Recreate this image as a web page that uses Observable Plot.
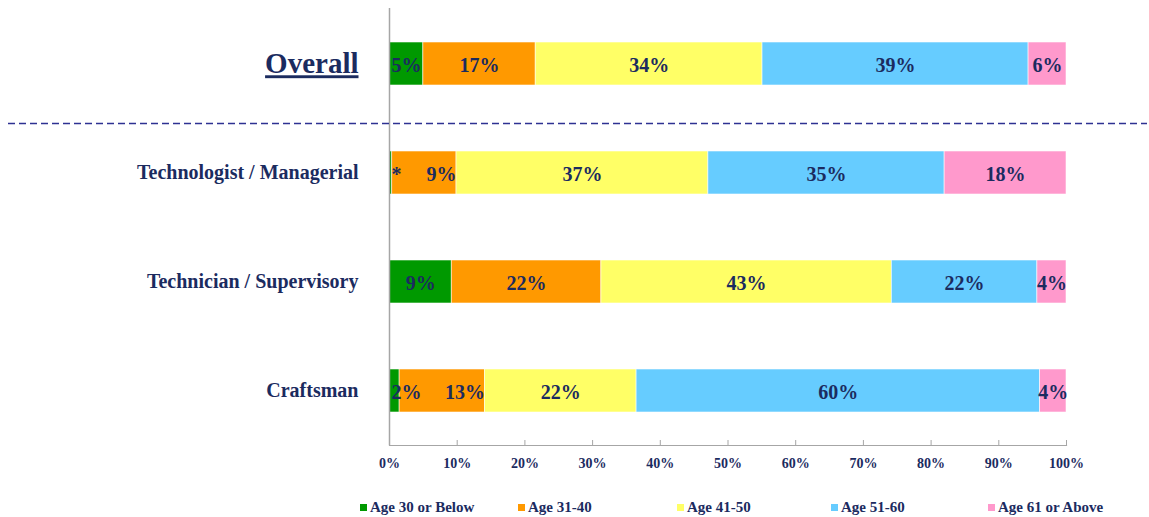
<!DOCTYPE html>
<html><head><meta charset="utf-8">
<script src="https://cdn.jsdelivr.net/npm/d3@7"></script>
<script src="https://cdn.jsdelivr.net/npm/@observablehq/plot@0.6"></script>
<style>
body{margin:0;background:#fff;}
#wrap{position:relative;width:1149px;height:517px;overflow:hidden;}
.legend{position:absolute;top:498px;left:0;width:1149px;height:19px;font:bold 15px "Liberation Serif","Times New Roman",serif;color:#1b2b5f;}
.item{position:absolute;top:0;display:flex;align-items:center;height:19px;white-space:nowrap;}
.sw{width:7px;height:7px;margin-right:3px;}
</style></head><body><div id="wrap"></div>
<script>
const categories = ["Overall", "Technologist / Managerial", "Technician / Supervisory", "Craftsman"];
const ageGroups = ["Age 30 or Below", "Age 31-40", "Age 41-50", "Age 51-60", "Age 61 or Above"];
const groupColors = ["#009900", "#FF9900", "#FFFF66", "#66CCFF", "#FF99CC"];

const overallValues = [5.0, 16.6, 33.5, 39.3, 5.6];
const managerialValues = [0.4, 9.5, 37.2, 34.9, 18.0];
const supervisoryValues = [9.2, 22.1, 42.9, 21.5, 4.3];
const craftsmanValues = [1.5, 12.6, 22.4, 59.6, 3.9];

const overallLabels = ["5%", "17%", "34%", "39%", "6%"];
const managerialLabels = ["*", "9%", "37%", "35%", "18%"];
const supervisoryLabels = ["9%", "22%", "43%", "22%", "4%"];
const craftsmanLabels = ["2%", "13%", "22%", "60%", "4%"];

const xTicks = [0, 10, 20, 30, 40, 50, 60, 70, 80, 90, 100];

const seriesValues = [overallValues, managerialValues, supervisoryValues, craftsmanValues];
const seriesLabels = [overallLabels, managerialLabels, supervisoryLabels, craftsmanLabels];

const pxPerUnit = (1149 - 389 - 83) / 100;
const estWidth = s => s.replace(/%/g, "").length * 10 + (s.includes("%") ? 20 : 0);

const rows = [];
categories.forEach((cat, i) => {
  let acc = 0;
  let prevStart = false;
  seriesValues[i].forEach((v, j) => {
    const r = {category: cat, group: ageGroups[j], value: v, x1: acc, x2: acc + v, mid: acc + v / 2, label: seriesLabels[i][j]};
    if (acc === 0 && v * pxPerUnit < estWidth(r.label)) r.anchor = "start";
    else if (prevStart) r.anchor = "end";
    else r.anchor = "middle";
    prevStart = r.anchor === "start";
    rows.push(r);
    acc += v;
  });
});

const startRows = rows.filter(r => r.anchor === "start");
const endRows = rows.filter(r => r.anchor === "end");
const centerRows = rows.filter(r => r.anchor === "middle");

const navy = "#1b2b5f";
const serif = '"Liberation Serif","Times New Roman",serif';
const labelStyle = {y: "category", text: "label", fontSize: 20, fontWeight: "bold", fill: navy, dy: 1.5};

const chart = Plot.plot({
  width: 1149, height: 480,
  marginLeft: 389, marginRight: 83, marginTop: 8, marginBottom: 35,
  style: {fontFamily: serif, color: navy, background: "white", overflow: "visible"},
  x: {domain: [0, 100]},
  y: {domain: categories, paddingInner: 0.607, paddingOuter: 0.3, align: 0.5},
  color: {domain: ageGroups, range: groupColors},
  marks: [
    Plot.barX(rows, {y: "category", x1: "x1", x2: "x2", fill: "group", stroke: "white", strokeWidth: 0.8, strokeOpacity: 0.7}),
    Plot.ruleX([0], {stroke: "#a6a6a6", strokeWidth: 1.5}),
    Plot.frame({anchor: "bottom", stroke: "#a6a6a6", strokeWidth: 1.2}),
    Plot.ruleX(xTicks, {x: d => d, insetTop: 432, stroke: "#a6a6a6"}),
    Plot.axisX(xTicks, {tickSize: 0, tickPadding: 13, tickFormat: d => d + "%", fontSize: 14, fontWeight: "bold", fill: navy, label: null}),
    Plot.axisY(categories.slice(1), {tickSize: 0, tickPadding: 31, fontSize: 20, fontWeight: "bold", fill: navy, label: null}),
    Plot.axisY(categories.slice(0, 1), {tickSize: 0, tickPadding: 31, fontSize: 29, fontWeight: "bold", fill: navy, label: null}),
    Plot.ruleY(categories.slice(0, 1), {y: d => d, dy: 59.5, insetLeft: -381, insetRight: -81, stroke: "#2e3192", strokeWidth: 1.5, strokeDasharray: "7,4"}),
    Plot.text(centerRows, {x: "mid", ...labelStyle}),
    Plot.text(startRows, {x: "x1", textAnchor: "start", ...labelStyle, dx: 2}),
    Plot.text(endRows, {x: "x2", textAnchor: "end", ...labelStyle, dx: 0})
  ]
});

d3.select(chart).selectAll("text").filter(function() { return this.textContent === "Overall"; })
  .style("text-decoration", "underline");

const wrap = document.getElementById("wrap");
wrap.appendChild(chart);

const legendX = [360, 518, 677, 831, 988];
const legend = document.createElement("div");
legend.className = "legend";
ageGroups.forEach((g, i) => {
  const item = document.createElement("div");
  item.className = "item";
  item.style.left = legendX[i] + "px";
  const sw = document.createElement("span");
  sw.className = "sw";
  sw.style.background = groupColors[i];
  const t = document.createElement("span");
  t.textContent = g;
  item.appendChild(sw);
  item.appendChild(t);
  legend.appendChild(item);
});
wrap.appendChild(legend);
</script></body></html>
